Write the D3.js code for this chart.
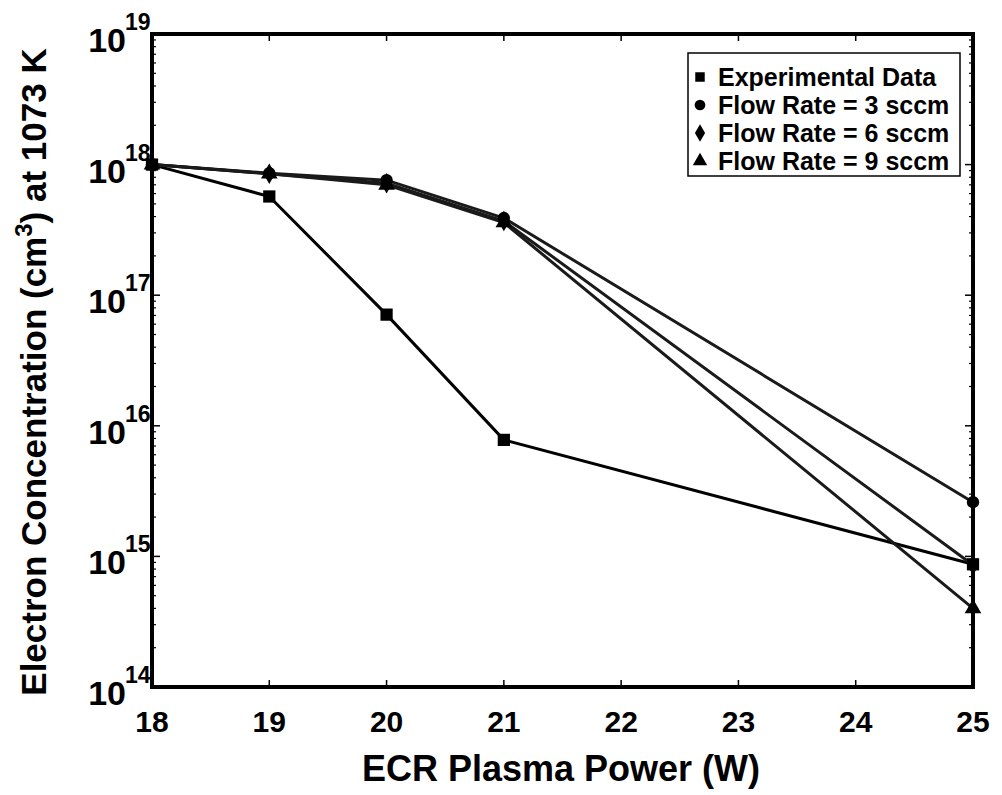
<!DOCTYPE html>
<html>
<head>
<meta charset="utf-8">
<style>
  body { margin: 0; background: #fff; }
  svg { font-family: "Liberation Sans", Arial, sans-serif; font-weight: bold; }
</style>
</head>
<body>
<svg width="1002" height="795"></svg>
<script src="https://d3js.org/d3.v7.min.js"></script>
<script>

// data
var power = [18, 19, 20, 21, 25];
var expData = [1.0e18, 5.7e17, 7.1e16, 7.8e15, 8.7e14];
var flow3 = [1.0e18, 8.6e17, 7.6e17, 3.9e17, 2.6e15];
var flow6 = [1.0e18, 8.5e17, 7.2e17, 3.7e17, 8.6e14];
var flow9 = [1.0e18, 8.5e17, 7.0e17, 3.6e17, 4.0e14];

var xTicks = [18, 19, 20, 21, 22, 23, 24, 25];
var yExps = [14, 15, 16, 17, 18, 19];

var seriesNames = ["Experimental Data", "Flow Rate = 3 sccm", "Flow Rate = 6 sccm", "Flow Rate = 9 sccm"];
var seriesVals = [expData, flow3, flow6, flow9];
var symbols = [d3.symbolSquare, d3.symbolCircle, d3.symbolDiamond, d3.symbolTriangle];

var svg = d3.select("svg");
// plot box (note: "top" is taken by window.top, so use a margin object)
var box = {left: 152, right: 973, top: 34, bottom: 687};

var x = d3.scaleLinear().domain([18, 25]).range([box.left, box.right]);
var y = d3.scaleLog().domain([1e14, 1e19]).range([box.bottom, box.top]);

// frame
svg.append("rect")
  .attr("x", box.left).attr("y", box.top)
  .attr("width", box.right - box.left).attr("height", box.bottom - box.top)
  .attr("fill", "none").attr("stroke", "#000").attr("stroke-width", 4);

// x ticks (inward, bottom and top)
xTicks.forEach(function(t) {
  if (t == 18 || t == 25) return;
  svg.append("line").attr("x1", x(t)).attr("x2", x(t))
    .attr("y1", box.bottom).attr("y2", box.bottom - 7)
    .attr("stroke", "#000").attr("stroke-width", 1.5);
  svg.append("line").attr("x1", x(t)).attr("x2", x(t))
    .attr("y1", box.top).attr("y2", box.top + 7)
    .attr("stroke", "#000").attr("stroke-width", 1.5);
});

// log minor ticks on left and right
yExps.slice(0, -1).forEach(function(e) {
  d3.range(2, 10).forEach(function(m) {
    var v = m * Math.pow(10, e);
    [[box.left, box.left + 4], [box.right, box.right - 4]].forEach(function(p) {
      svg.append("line").attr("x1", p[0]).attr("x2", p[1])
        .attr("y1", y(v)).attr("y2", y(v))
        .attr("stroke", "#000").attr("stroke-width", 1.2);
    });
  });
});
yExps.forEach(function(e) {
  var v = Math.pow(10, e);
  [[box.left, box.left + 8], [box.right, box.right - 8]].forEach(function(p) {
    svg.append("line").attr("x1", p[0]).attr("x2", p[1])
      .attr("y1", y(v)).attr("y2", y(v))
      .attr("stroke", "#000").attr("stroke-width", 1.5);
  });
});

// x tick labels
svg.selectAll(".xl").data(xTicks).enter().append("text")
  .attr("x", function(d) { return x(d); })
  .attr("y", 732)
  .attr("text-anchor", "middle")
  .attr("font-size", 30)
  .text(function(d) { return d; });

// y tick labels 10^n
yExps.forEach(function(e) {
  svg.append("text")
    .attr("x", 126).attr("y", y(Math.pow(10, e)) + 18)
    .attr("text-anchor", "end")
    .attr("font-size", 34)
    .text("10");
  svg.append("text")
    .attr("x", 125).attr("y", y(Math.pow(10, e)) - 4)
    .attr("font-size", 23)
    .text(e);
});

// axis titles
svg.append("text")
  .attr("x", 561).attr("y", 781)
  .attr("text-anchor", "middle")
  .attr("font-size", 36)
  .text("ECR Plasma Power (W)");

var yt = svg.append("text")
  .attr("transform", "translate(46,372) rotate(-90)")
  .attr("text-anchor", "middle")
  .attr("font-size", 35);
yt.append("tspan").text("Electron Concentration (cm");
yt.append("tspan").attr("dy", -14).attr("font-size", 24).text("3");
yt.append("tspan").attr("dy", 14).text(") at 1073 K");

// lines and markers
var line = d3.line()
  .x(function(d, i) { return x(power[i]); })
  .y(function(d) { return y(d); });

seriesVals.forEach(function(vals, s) {
  svg.append("path")
    .datum(vals)
    .attr("d", line)
    .attr("fill", "none")
    .attr("stroke", s == 0 ? "#000" : "#1a1a1a")
    .attr("stroke-width", 3);
});

seriesVals.forEach(function(vals, s) {
  svg.selectAll(".m" + s).data(vals).enter().append("path")
    .attr("transform", function(d, i) { return "translate(" + x(power[i]) + "," + y(d) + ")"; })
    .attr("d", d3.symbol().type(symbols[s]).size(s == 0 ? 150 : 120))
    .attr("fill", "#000");
});

// legend
var lg = svg.append("g").attr("transform", "translate(688,53)");
lg.append("rect")
  .attr("width", 272).attr("height", 123)
  .attr("fill", "#fff").attr("stroke", "#000").attr("stroke-width", 1.5);
seriesNames.forEach(function(name, i) {
  var cy = 24 + i * 28;
  lg.append("path")
    .attr("transform", "translate(12," + cy + ")")
    .attr("d", d3.symbol().type(symbols[i]).size(90))
    .attr("fill", "#000");
  lg.append("text")
    .attr("x", 30).attr("y", cy + 9)
    .attr("font-size", 25)
    .text(name);
});

</script>
</body>
</html>
